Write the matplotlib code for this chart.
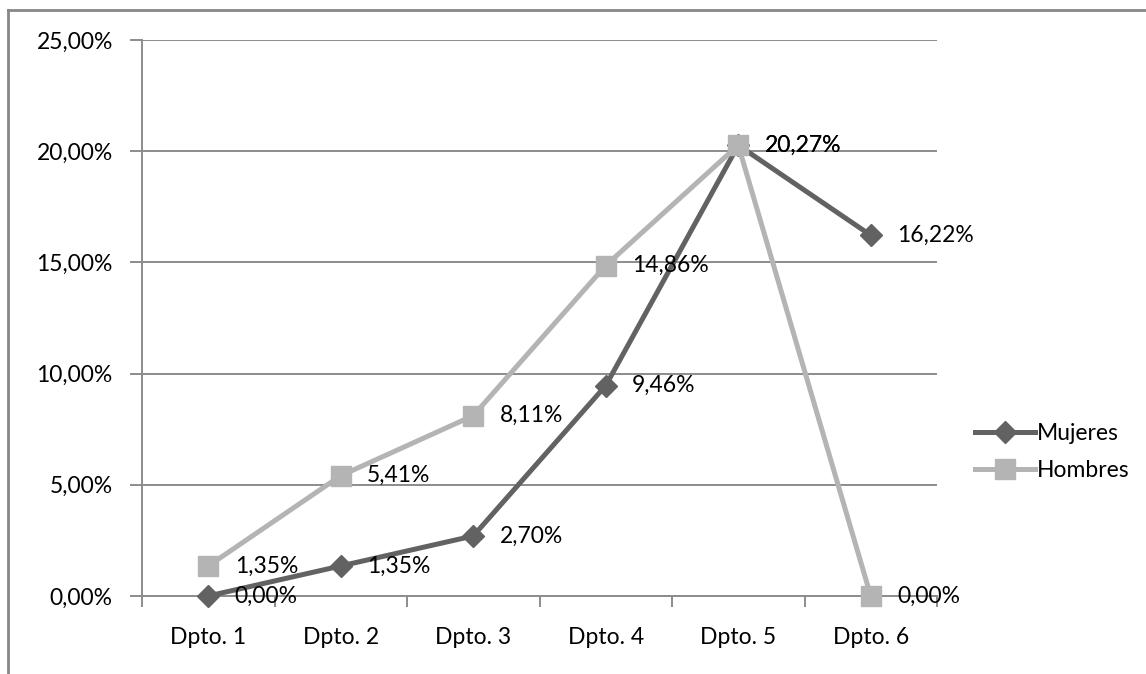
import matplotlib
matplotlib.use("Agg")
import matplotlib.pyplot as plt
from matplotlib.lines import Line2D
from matplotlib.ticker import FixedLocator, FuncFormatter

categories = ["Dpto. 1", "Dpto. 2", "Dpto. 3", "Dpto. 4", "Dpto. 5", "Dpto. 6"]
mujeres = [0.00, 1.35, 2.70, 9.46, 20.27, 16.22]
hombres = [1.35, 5.41, 8.11, 14.86, 20.27, 0.00]
y_ticks = [0, 5, 10, 15, 20, 25]

plt.rcParams["font.family"] = ["Lato", "DejaVu Sans"]
FS = 16.5
GRID = "#8c8c8c"
DARK = "#626262"
LIGHT = "#b4b4b4"


def pct(v):
    return f"{v:.2f}".replace(".", ",") + "%"


W, H = 1146, 674
fig = plt.figure(figsize=(W / 100, H / 100), dpi=100)
ax = fig.add_axes([142 / W, 1 - 596 / H, 795 / W, 556 / H])

x = list(range(len(categories)))
ax.plot(x, mujeres, color=DARK, lw=3.6, marker="D", ms=11, clip_on=False,
        mfc=DARK, mec=DARK, label="Mujeres", zorder=3, solid_joinstyle="round")
ax.plot(x, hombres, color=LIGHT, lw=3.6, marker="s", ms=14, clip_on=False,
        mfc=LIGHT, mec=LIGHT, label="Hombres", zorder=4, solid_joinstyle="round")

for xi, v in zip(x, mujeres):
    ax.annotate(pct(v), (xi, v), xytext=(19, 0), textcoords="offset points",
                ha="left", va="center", fontsize=FS, color="black", zorder=6)
for xi, v in zip(x, hombres):
    ax.annotate(pct(v), (xi, v), xytext=(19, 0), textcoords="offset points",
                ha="left", va="center", fontsize=FS, color="black", zorder=6)

ax.set_xlim(-0.5, len(categories) - 0.5)
ax.set_ylim(0, 25)
ax.set_yticks(y_ticks)
ax.yaxis.set_major_formatter(FuncFormatter(lambda v, _: pct(v)))
ax.grid(axis="y", color=GRID, lw=1.4)
ax.set_axisbelow(True)

# category labels centred, tick marks on the boundaries
ax.xaxis.set_major_locator(FixedLocator([i - 0.5 for i in range(len(categories) + 1)]))
ax.xaxis.set_minor_locator(FixedLocator(x))
ax.set_xticklabels([""] * (len(categories) + 1))
ax.set_xticklabels(categories, minor=True)
ax.tick_params(axis="x", which="major", length=8, width=1.4, color=GRID, direction="out")
ax.tick_params(axis="x", which="minor", length=0, pad=22, labelsize=FS)
ax.tick_params(axis="y", length=9, width=1.4, color=GRID, pad=12, labelsize=FS)

for side in ["top", "right"]:
    ax.spines[side].set_visible(False)
ax.spines["left"].set_color(GRID)
ax.spines["left"].set_linewidth(1.4)
ax.spines["bottom"].set_color(GRID)
ax.spines["bottom"].set_linewidth(1.4)

fig.legend(loc="center left", bbox_to_anchor=(975 / W, 1 - 452 / H),
           frameon=False, fontsize=FS, handlelength=2.6, handletextpad=0.1,
           labelspacing=0.68, borderaxespad=0, borderpad=0)

# chart area outline
fig.add_artist(Line2D([8 / W, 1], [1 - 10 / H, 1 - 10 / H], transform=fig.transFigure,
                      color="#878787", lw=2))
fig.add_artist(Line2D([8 / W, 8 / W], [0, 1 - 10 / H], transform=fig.transFigure,
                      color="#878787", lw=2))

fig.savefig("out.png", dpi=100)
